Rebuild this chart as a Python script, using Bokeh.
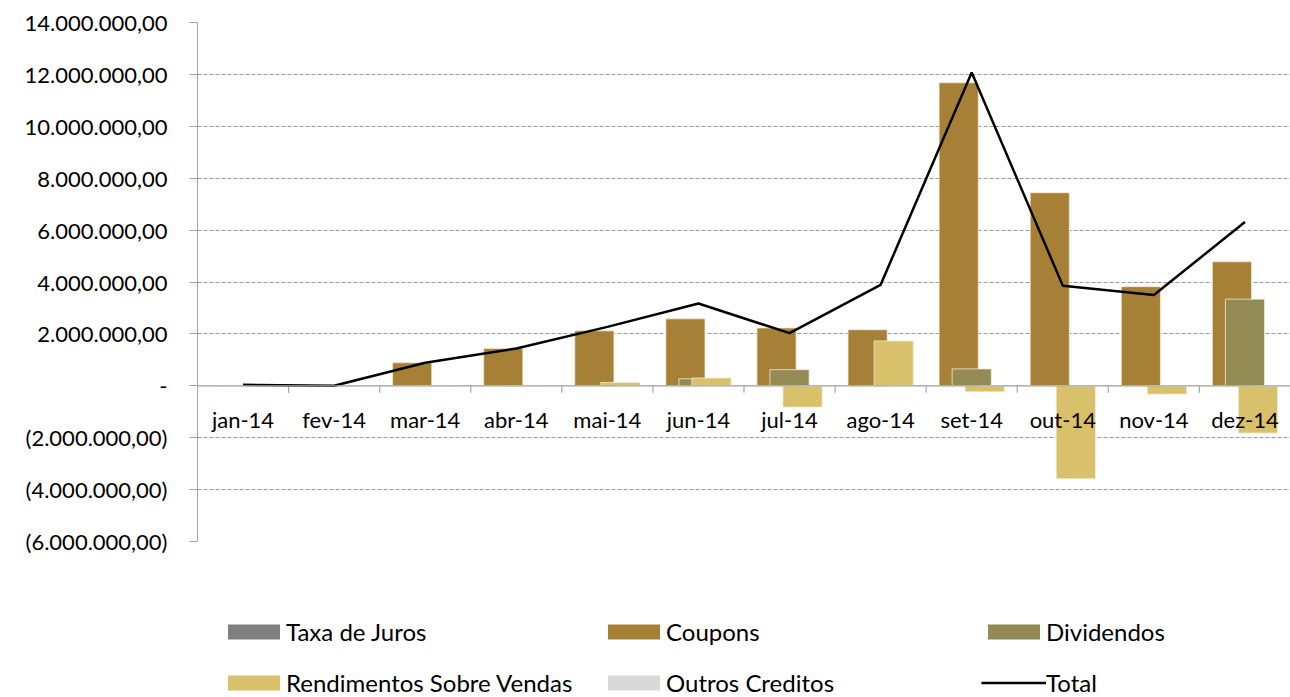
from bokeh.plotting import figure
from bokeh.layouts import column
from bokeh.models import Range1d, FactorRange, FixedTicker, Span, Legend, LegendItem, ColumnDataSource
from bokeh.transform import dodge
from bokeh.core.properties import value
from bokeh.embed import file_html
from bokeh.resources import INLINE

# ---------------- data ----------------
months = ["jan-14", "fev-14", "mar-14", "abr-14", "mai-14", "jun-14",
          "jul-14", "ago-14", "set-14", "out-14", "nov-14", "dez-14"]
taxa_juros = [0, 0, 0, 0, 0, 0, 0, 0, 0, 0, 0, 0]
coupons = [0, 0, 890000, 1440000, 2120000, 2580000, 2230000, 2160000, 11680000, 7440000, 3820000, 4780000]
dividendos = [0, 0, 0, 0, 0, 270000, 620000, 0, 650000, 0, 0, 3340000]
rendimentos = [0, 0, 0, 0, 130000, 300000, -820000, 1730000, -230000, -3580000, -320000, -1820000]
outros = [0, 0, 0, 0, 0, 0, 0, 0, 0, 0, 0, 0]
total = [40000, 0, 890000, 1440000, 2270000, 3170000, 2030000, 3890000, 12070000, 3860000, 3500000, 6310000]

y_ticks = [-6000000, -4000000, -2000000, 0, 2000000, 4000000, 6000000,
           8000000, 10000000, 12000000, 14000000]
y_tick_labels = ["(6.000.000,00)", "(4.000.000,00)", "(2.000.000,00)", "-",
                 "2.000.000,00", "4.000.000,00", "6.000.000,00", "8.000.000,00",
                 "10.000.000,00", "12.000.000,00", "14.000.000,00"]

series_names = ["Taxa de Juros", "Coupons", "Dividendos", "Rendimentos Sobre Vendas", "Outros Creditos"]
series_colors = ["#7F7F7F", "#A78038", "#948A54", "#D9C06A", "#D9D9D9"]
total_name = "Total"

# ---------------- style ----------------
FONT = "Lato"
AXIS_COLOR = "#A6A6A6"
GRID_COLOR = "#9A9A9A"
BAR_LINE = "#F2EBD6"
BAR_WIDTH = 0.43
BAR_STEP = 0.143
TICK_DEPTH = 270000

src = ColumnDataSource(dict(month=months, taxa=taxa_juros, coupons=coupons, div=dividendos,
                            rend=rendimentos, outros=outros, total=total,
                            zero=[0] * len(months), tickend=[-TICK_DEPTH] * len(months)))
cols = ["taxa", "coupons", "div", "rend", "outros"]

p = figure(width=1290, height=556, output_backend="svg", toolbar_location=None,
           x_range=FactorRange(*months, range_padding=0, factor_padding=0),
           y_range=Range1d(-6000000, 14000000),
           x_axis_type=None,
           min_border_left=197, min_border_right=0, min_border_top=22, min_border_bottom=15)
p.outline_line_color = None
p.background_fill_color = "white"
p.border_fill_color = "white"

yax = p.yaxis[0]
yax.ticker = FixedTicker(ticks=y_ticks)
yax.major_label_overrides = {t: l for t, l in zip(y_ticks, y_tick_labels)}
yax.major_label_text_font = FONT
yax.major_label_text_font_size = "22px"
yax.major_label_text_color = "black"
yax.axis_line_color = AXIS_COLOR
yax.major_tick_line_color = AXIS_COLOR
yax.major_tick_out = 8
yax.major_tick_in = 0
yax.minor_tick_line_color = None
yax.major_label_standoff = 22

p.ygrid.grid_line_color = GRID_COLOR
p.ygrid.grid_line_dash = "4 2"
p.ygrid.grid_line_width = 1
p.xgrid.grid_line_color = None

for i, (name, col, color) in enumerate(zip(series_names, cols, series_colors)):
    p.vbar(x=dodge("month", (i - 2) * BAR_STEP, range=p.x_range), top=col, bottom=0,
           width=BAR_WIDTH, source=src, fill_color=color, line_color=BAR_LINE, line_width=0.8)

# category axis at zero
p.add_layout(Span(location=0, dimension="width", line_color=AXIS_COLOR, line_width=1.2))
p.segment(x0=dodge("month", 0.5, range=p.x_range), y0="zero",
          x1=dodge("month", 0.5, range=p.x_range), y1="tickend",
          source=src, line_color=AXIS_COLOR, line_width=1.2)
p.text(x="month", y="zero", text="month", source=src, y_offset=34,
       text_align="center", text_baseline="middle",
       text_font=value(FONT), text_font_size="22px", text_color="black")

p.line(x="month", y="total", source=src, line_color="black", line_width=2.5)

# ---------------- legend panel (its swatch glyphs sit outside the visible range) ----------------
q = figure(width=1290, height=141, output_backend="svg", toolbar_location=None,
           x_axis_type=None, y_axis_type=None,
           x_range=Range1d(0, 1), y_range=Range1d(0, 1),
           min_border_left=197, min_border_right=0, min_border_top=0, min_border_bottom=0)
q.outline_line_color = None
q.xgrid.grid_line_color = None
q.ygrid.grid_line_color = None
swatch = ColumnDataSource(dict(x=[5, 6], top=[5, 6]))
leg = {}
for name, color in zip(series_names, series_colors):
    leg[name] = q.vbar(x="x", top="top", width=0.1, source=swatch, fill_color=color, line_color=None)
leg[total_name] = q.line(x="x", y="top", source=swatch, line_color="black", line_width=2.5)

order = ["Taxa de Juros", "Rendimentos Sobre Vendas", "Coupons", "Outros Creditos", "Dividendos", "Total"]
legend = Legend(items=[LegendItem(label=n, renderers=[leg[n]]) for n in order],
                ncols=3, location=(24, 0),
                glyph_width=65, glyph_height=19, label_height=28, label_width=293,
                label_standoff=0, spacing=22, padding=0, margin=0,
                label_text_font=FONT, label_text_font_size="24px", label_text_color="black",
                label_text_baseline="middle",
                border_line_color=None, background_fill_alpha=0)
q.add_layout(legend, "center")

open("out.html", "w").write(file_html(column(p, q, spacing=0), INLINE))
